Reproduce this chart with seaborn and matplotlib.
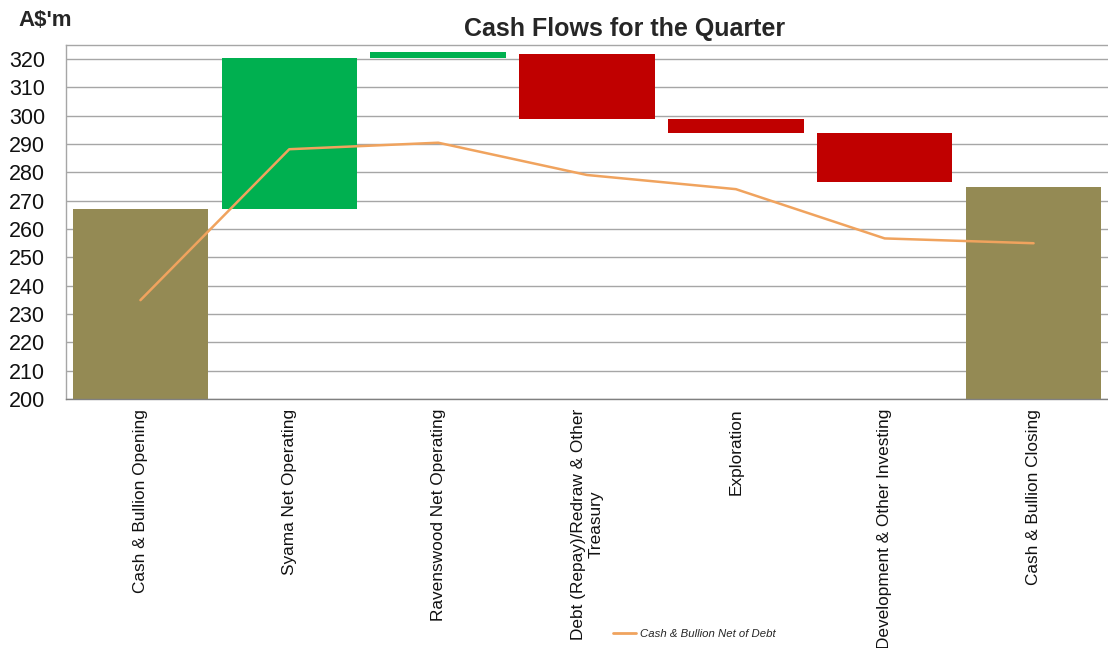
import matplotlib
matplotlib.use("Agg")
import numpy as np
import pandas as pd
import matplotlib.pyplot as plt
import seaborn as sns
from matplotlib.lines import Line2D

# chart data (A$'m)
categories = ["Cash & Bullion Opening", "Syama Net Operating", "Ravenswood Net Operating",
              "Debt (Repay)/Redraw & Other\nTreasury", "Exploration",
              "Development & Other Investing", "Cash & Bullion Closing"]
bar_bottoms = [200, 267.0, 320.3, 298.8, 293.8, 276.6, 200]
bar_tops = [267.0, 320.3, 322.7, 321.8, 298.7, 293.8, 274.7]
bar_colors = ["#948A54", "#00B050", "#00B050", "#C00000", "#C00000", "#C00000", "#948A54"]
net_of_debt = [234.9, 288.2, 290.5, 279.1, 274.1, 256.7, 255.0]
y_ticks = [200, 210, 220, 230, 240, 250, 260, 270, 280, 290, 300, 310, 320]

line_color = "#F0A35E"
grid_color = "#A6A6A6"

sns.set_style("white")
plt.rcParams["font.family"] = ["Liberation Sans", "DejaVu Sans"]

df = pd.DataFrame({"Item": categories, "bottom": bar_bottoms, "top": bar_tops})
df["height"] = df["top"] - df["bottom"]

fig = plt.figure(figsize=(11.08, 6.48), dpi=100)
ax = fig.add_axes([66 / 1108, 249 / 648, 1042 / 1108, 354 / 648])

# floating bars of the waterfall
sns.barplot(data=df, x="Item", y="height", bottom=df["bottom"].values, order=categories,
            width=0.91, errorbar=None, color=bar_colors[0], edgecolor="none",
            linewidth=0, ax=ax)
for patch, c in zip(ax.patches, bar_colors):
    patch.set_facecolor(c)

# cash & bullion net of debt line
sns.lineplot(x=np.arange(len(categories)), y=net_of_debt, sort=False, color=line_color,
             linewidth=1.8, ax=ax)

ax.set_xlim(-0.5, len(categories) - 0.5)
ax.set_ylim(200, 325)
ax.set_yticks(y_ticks)
ax.tick_params(axis="y", labelsize=15.5, length=0, pad=15, colors="#111111")
ax.set_xticks(np.arange(len(categories)))
ax.set_xticklabels(categories, rotation=90, fontsize=12.4, color="#111111")
ax.tick_params(axis="x", which="major", length=0, pad=7)
ax.set_xticks(np.arange(-0.5, len(categories)), minor=True)
ax.tick_params(axis="x", which="minor", length=5, color="#808080", width=1)
ax.set_xlabel("")
ax.set_ylabel("")

ax.yaxis.grid(True, color=grid_color, linewidth=1)
ax.set_axisbelow(True)
for side in ["left", "top", "bottom"]:
    ax.spines[side].set_color(grid_color)
    ax.spines[side].set_linewidth(1)
ax.spines["bottom"].set_color("#808080")
ax.spines["right"].set_visible(False)

fig.text(625 / 1108, 1 - 29 / 648, "Cash Flows for the Quarter", ha="center", va="center",
         fontsize=18, fontweight="bold")
fig.text(18 / 1108, 1 - 20 / 648, "A$'m", ha="left", va="center", fontsize=16,
         fontweight="bold")

fig.legend(handles=[Line2D([], [], color=line_color, linewidth=2)],
           labels=["Cash & Bullion Net of Debt"], loc="center",
           bbox_to_anchor=(694 / 1108, 1 - 634 / 648), frameon=False,
           prop={"style": "italic", "size": 8.2}, handlelength=2.1, handletextpad=0.3)

fig.savefig("out.png", dpi=100)
